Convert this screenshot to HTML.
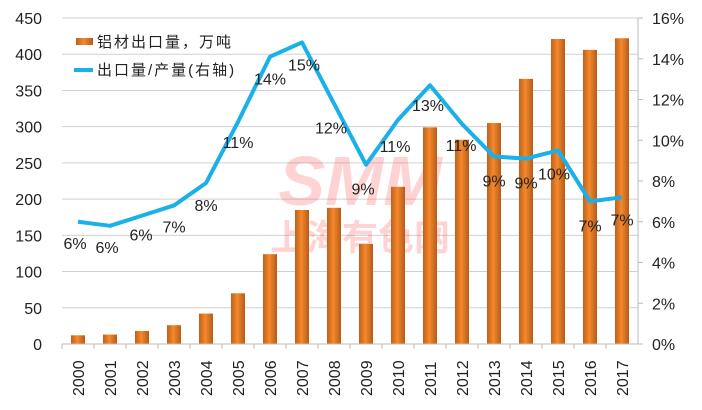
<!DOCTYPE html>
<html><head><meta charset="utf-8"><style>
body{margin:0;background:#fff;}
svg{display:block;font-family:"Liberation Sans","Noto Sans CJK SC",sans-serif;}
</style></head><body>
<svg id="chart" width="702" height="410" viewBox="0 0 702 410">
<defs>
<linearGradient id="barg" x1="0" x2="1" y1="0" y2="0">
<stop offset="0" stop-color="#c0601a"/><stop offset="0.45" stop-color="#f4892e"/><stop offset="1" stop-color="#b85a16"/>
</linearGradient>
</defs>
<g id="grid"></g>
<g id="wm" opacity="0.25">
<text x="360" y="205" font-size="70" font-weight="bold" fill="#f55" text-anchor="middle" font-style="italic">SMM</text>
<text x="360" y="250" font-size="36" font-weight="bold" fill="#f55" text-anchor="middle">上海有色网</text>
</g>
<g id="bars"></g>
<g id="line"></g>
<g id="axes"></g>
<g>
<rect x="76" y="38" width="17" height="7" fill="url(#barg)"/>
<text x="97" y="47" font-size="15" letter-spacing="2" fill="#222">铝材出口量，万吨</text>
<line x1="74" y1="70" x2="93" y2="70" stroke="#1ab0e8" stroke-width="4"/>
<text x="97" y="75" font-size="15" letter-spacing="2" fill="#222">出口量/产量(右轴)</text>
</g>
</svg>
<script>
const years=["2000","2001","2002","2003","2004","2005","2006","2007","2008","2009","2010","2011","2012","2013","2014","2015","2016","2017"];
const exportVol=[12,13,18,26,42,70,124,185,188,138,217,299,282,305,366,421,406,422];
const ratioPct=[6.0,5.8,6.3,6.8,7.9,10.9,14.1,14.8,11.8,8.8,11.0,12.7,10.8,9.2,9.1,9.5,7.0,7.2];
const ratioLabels=["6%","6%","6%","7%","8%","11%","14%","15%","12%","9%","11%","13%","11%","9%","9%","10%","7%","7%"];
const leftTicks=[0,50,100,150,200,250,300,350,400,450];
const rightTicks=[0,2,4,6,8,10,12,14,16];
const L=62,R=638,T=18,B=344;
const NS="http://www.w3.org/2000/svg";
const step=(R-L)/years.length;
const xc=i=>L+step*(i+0.5);
const yL=v=>B-(v/450)*(B-T);
const yR=v=>B-(v/16)*(B-T);
function mk(t,a,p){const e=document.createElementNS(NS,t);for(const k in a)e.setAttribute(k,a[k]);p.appendChild(e);return e;}
const grid=document.getElementById('grid'),axes=document.getElementById('axes'),bars=document.getElementById('bars'),line=document.getElementById('line');
leftTicks.forEach(v=>{
 const g=mk('line',{x1:L,x2:R,y1:yL(v),y2:yL(v),stroke:'#d0d0d0','stroke-width':1},grid);
 
 
 const t=mk('text',{x:L-20,y:yL(v)+6,'font-size':16,'text-anchor':'end',fill:'#222'},axes);t.textContent=v;
 
 
});
rightTicks.forEach(v=>{
 const t=mk('text',{x:R+14,y:yR(v)+6,'font-size':16,'text-anchor':'start',fill:'#222'},axes);t.textContent=v+'%';
 
 
 mk('line',{x1:R,x2:R+5,y1:yR(v),y2:yR(v),stroke:'#bbb'},axes);
});
mk('line',{x1:L,x2:R,y1:B,y2:B,stroke:'#bbb'},axes);
mk('line',{x1:R,x2:R,y1:T,y2:B,stroke:'#bbb'},axes);
years.forEach((y,i)=>{
 mk('line',{x1:L+step*i,x2:L+step*i,y1:B,y2:B+5,stroke:'#bbb'},axes);
 const t=mk('text',{transform:`translate(${xc(i)+6},${B+52}) rotate(-90)`,'font-size':16,fill:'#222'},axes);t.textContent=y;
 
 
 const b=mk('rect',{x:xc(i)-7,y:yL(exportVol[i]),width:14,height:B-yL(exportVol[i]),fill:'url(#barg)'},bars);
 
 
});
const pl=mk('polyline',{points:ratioPct.map((v,i)=>xc(i)+','+yR(v)).join(' '),fill:'none',stroke:'#1ab0e8','stroke-width':4,'stroke-linejoin':'round'},line);


const ldx=[-3,-3,-1,0,0,0,0,2,-3,-3,-3,-2,-1,0,0,-4,0,0];
const ldy=[27,27,25,27,28,26,28,28,30,30,32,26,27,30,30,29,30,28];
ratioLabels.forEach((s,i)=>{
 const t=mk('text',{x:xc(i)+ldx[i],y:yR(ratioPct[i])+ldy[i],'font-size':16,'text-anchor':'middle',fill:'#222'},line);t.textContent=s;
 
 
});
</script>
</body></html>
